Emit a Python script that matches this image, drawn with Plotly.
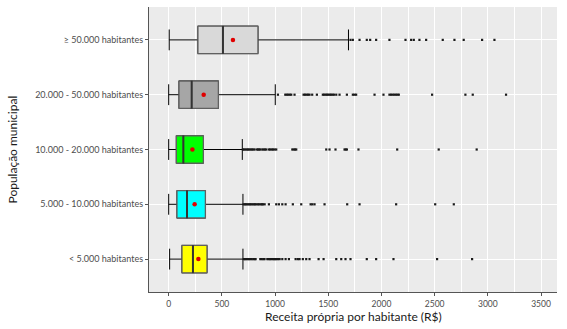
import plotly.graph_objects as go

categories = ["< 5.000 habitantes", "5.000 - 10.000 habitantes", "10.000 - 20.000 habitantes",
              "20.000 - 50.000 habitantes", "≥ 50.000 habitantes"]
lower = [9, 0, 0, 0, 5]
q1 = [125, 78, 72, 97, 275]
median = [228, 172, 138, 216, 510]
q3 = [360, 345, 326, 467, 839]
upper = [698, 698, 692, 1002, 1690]
mean = [279, 244, 223, 329, 604]
fills = ["#FFFF00", "#00FFFF", "#00FF00", "#A6A6A6", "#D9D9D9"]

out_lt5k = [707, 718, 730, 742, 755, 768, 780, 795, 808, 817, 861, 875, 890, 901, 927, 940, 952,
            965, 978, 990, 1002, 1011, 1027, 1043, 1068, 1099, 1130, 1193, 1214, 1230, 1261, 1293,
            1324, 1409, 1456, 1575, 1622, 1662, 1709, 1862, 1950, 2113, 2523, 2852]
out_5_10k = [705, 716, 728, 740, 752, 764, 776, 788, 800, 812, 824, 839, 852, 865, 878, 886, 902,
             942, 1011, 1036, 1068, 1099, 1167, 1246, 1334, 1350, 1371, 1465, 1678, 1794, 2138,
             2505, 2680]
out_10_20k = [698, 710, 722, 734, 746, 758, 770, 782, 795, 808, 829, 840, 851, 861, 880, 892, 905,
              918, 942, 955, 968, 981, 995, 1011, 1162, 1175, 1188, 1199, 1481, 1512, 1568, 1653,
              1664, 1675, 1784, 2148, 2538, 2895]
out_20_50k = [1027, 1096, 1110, 1124, 1138, 1152, 1183, 1268, 1282, 1296, 1310, 1324, 1349, 1393,
              1449, 1462, 1475, 1488, 1501, 1514, 1527, 1540, 1553, 1575, 1606, 1675, 1731, 1746,
              1762, 1935, 2019, 2075, 2090, 2105, 2120, 2135, 2150, 2163, 2476, 2789, 2858, 3171]
out_50k = [1709, 1731, 1794, 1862, 1894, 1950, 2075, 2226, 2279, 2304, 2357, 2420, 2576, 2686,
           2773, 2946, 3062]
outliers = [out_lt5k, out_5_10k, out_10_20k, out_20_50k, out_50k]

x_ticks = [0, 500, 1000, 1500, 2000, 2500, 3000, 3500]

fig = go.Figure()
BW = 0.5
for i, cat in enumerate(categories):
    # whiskers (error bar) in black
    fig.add_trace(go.Box(
        y=[cat], q1=[q1[i]], median=[median[i]], q3=[q3[i]],
        lowerfence=[lower[i]], upperfence=[upper[i]], orientation="h",
        width=BW, whiskerwidth=0.76, boxpoints=False,
        line=dict(color="#000000", width=1), fillcolor="rgba(0,0,0,0)",
        showlegend=False, hoverinfo="skip"))
    # box body
    fig.add_trace(go.Box(
        y=[cat], q1=[q1[i]], median=[median[i]], q3=[q3[i]],
        lowerfence=[q1[i]], upperfence=[q3[i]], orientation="h",
        width=BW, whiskerwidth=0, boxpoints=False,
        line=dict(color="#606060", width=1.3), fillcolor=fills[i],
        showlegend=False))
    # median line
    fig.add_trace(go.Scatter(
        x=[median[i]], y=[cat], mode="markers",
        marker=dict(symbol="line-ns", size=20, line=dict(color="#333333", width=2)),
        showlegend=False, hoverinfo="skip"))
    # outliers
    fig.add_trace(go.Scatter(
        x=outliers[i], y=[cat] * len(outliers[i]), mode="markers",
        marker=dict(symbol="square", size=2.2, color="#1a1a1a", line=dict(width=0)),
        showlegend=False))

fig.add_trace(go.Scatter(
    x=mean, y=categories, mode="markers",
    marker=dict(symbol="circle", size=4.5, color="#E00000", line=dict(width=0)),
    showlegend=False))

fig.update_layout(
    width=567, height=329,
    margin=dict(l=149, r=10, t=7, b=37),
    paper_bgcolor="white", plot_bgcolor="#EBEBEB",
    boxmode="overlay",
    font=dict(family="Lato, Open Sans, sans-serif", color="#4D4D4D", size=9),
    xaxis=dict(
        range=[-185, 3650], tickvals=x_ticks, ticktext=[str(v) for v in x_ticks],
        showgrid=True, gridcolor="white", gridwidth=1.1,
        minor=dict(dtick=250, tick0=250, showgrid=True, gridcolor="white", gridwidth=0.5),
        zeroline=False, showline=True, linecolor="#555555", linewidth=1.3,
        ticks="outside", ticklen=3, tickcolor="#555555", tickwidth=1,
        ticklabelstandoff=1,
        tickfont=dict(size=8.5, color="#4D4D4D"), automargin=False),
    yaxis=dict(
        type="category", categoryorder="array", categoryarray=categories,
        range=[-0.6, 4.6],
        showgrid=True, gridcolor="white", gridwidth=1.1,
        zeroline=False, showline=True, linecolor="#555555", linewidth=1.3,
        ticks="outside", ticklen=3, tickcolor="#555555", tickwidth=1,
        tickfont=dict(size=9, color="#4D4D4D"), automargin=False),
    annotations=[
        dict(text="Receita própria por habitante (R$)", xref="paper", yref="paper",
             x=0.5, y=-24 / 285, xanchor="center", yanchor="middle", showarrow=False,
             font=dict(size=12, color="#1a1a1a")),
        dict(text="População municipal", xref="paper", yref="paper",
             x=-137 / 408, y=0.5, xanchor="center", yanchor="middle", showarrow=False,
             textangle=-90, font=dict(size=12, color="#1a1a1a")),
    ],
)

fig.write_html("out.html", config={"displayModeBar": False},
               post_script="document.body.style.margin='0';document.body.style.overflow='hidden';")
